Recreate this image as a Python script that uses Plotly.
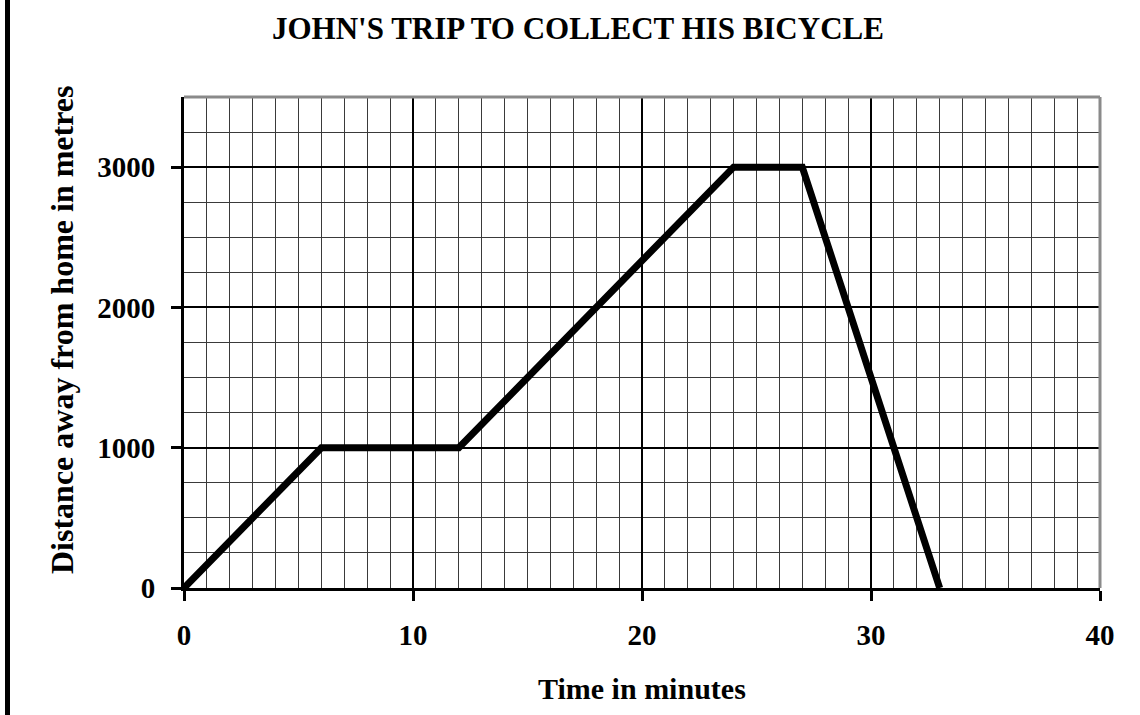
import plotly.graph_objects as go

time_min = [0, 6, 12, 24, 27, 33]
distance_m = [0, 1000, 1000, 3000, 3000, 0]
x_ticks = [0, 10, 20, 30, 40]
y_ticks = [0, 1000, 2000, 3000]

W, H = 1140, 715
# desired page-pixel plot box
PL, PR, PT, PB = 184, 1100, 97, 588
L, T = PL, PT
R, B = W - PR, H - PB
pw, ph = PR - PL, PB - PT


def px(xp):
    return (xp - PL) / pw


def py(yp):
    return (PB - yp) / ph


font = "Liberation Serif"

fig = go.Figure()
fig.add_trace(go.Scatter(x=time_min, y=distance_m, mode="lines",
                         line=dict(color="black", width=7), showlegend=False,
                         hoverinfo="skip", cliponaxis=False))

fig.update_layout(
    width=W, height=H,
    margin=dict(l=L, r=R, t=T, b=B),
    paper_bgcolor="white", plot_bgcolor="white",
    font=dict(family=font, color="black"),
    annotations=[
        dict(text="<b>JOHN'S TRIP TO COLLECT HIS BICYCLE</b>", xref="paper", yref="paper",
             x=px(578), y=py(28), xanchor="center", yanchor="middle", showarrow=False,
             font=dict(family=font, size=31, color="black")),
        dict(text="<b>Time in minutes</b>", xref="paper", yref="paper",
             x=px(642), y=py(688), xanchor="center", yanchor="middle", showarrow=False,
             font=dict(family=font, size=30, color="black")),
        dict(text="<b>Distance away from home in metres</b>", xref="paper", yref="paper",
             x=px(62), y=py(330), xanchor="center", yanchor="middle", showarrow=False,
             textangle=-90, font=dict(family=font, size=32, color="black")),
    ],
)
fig.update_xaxes(
    range=[0, 40], tickvals=x_ticks, ticktext=[f"<b>{v}</b>" for v in x_ticks],
    showgrid=True, gridcolor="black", gridwidth=2,
    minor=dict(dtick=1, showgrid=True, gridcolor="#3a3a3a", gridwidth=1),
    showline=True, linecolor="black", linewidth=3,
    ticks="outside", ticklen=10, tickwidth=3, tickcolor="black",
    zeroline=False, tickfont=dict(family=font, size=29, color="black"),
    ticklabelstandoff=9,
)
fig.update_yaxes(
    range=[0, 3500], tickvals=y_ticks, ticktext=[f"<b>{v}</b>" for v in y_ticks],
    showgrid=True, gridcolor="black", gridwidth=2,
    minor=dict(dtick=250, showgrid=True, gridcolor="#3a3a3a", gridwidth=1),
    showline=True, linecolor="black", linewidth=3,
    ticks="outside", ticklen=10, tickwidth=3, tickcolor="black",
    zeroline=False, tickfont=dict(family=font, size=29, color="black"),
    ticklabelstandoff=10,
)

# grey top and right frame
fig.add_shape(type="line", xref="paper", yref="paper", x0=0, x1=1, y0=1, y1=1,
              line=dict(color="#8a8a8a", width=3), layer="above")
fig.add_shape(type="line", xref="paper", yref="paper", x0=1, x1=1, y0=0, y1=1,
              line=dict(color="#8a8a8a", width=3), layer="above")
# left page border
lx = px(7.5)
fig.add_shape(type="line", xref="paper", yref="paper", x0=lx, x1=lx,
              y0=py(720), y1=py(-5),
              line=dict(color="black", width=5), layer="above")

fig.write_html("out.html", config={"displayModeBar": False},
               post_script="document.body.style.margin='0px';document.body.style.overflow='hidden';")
